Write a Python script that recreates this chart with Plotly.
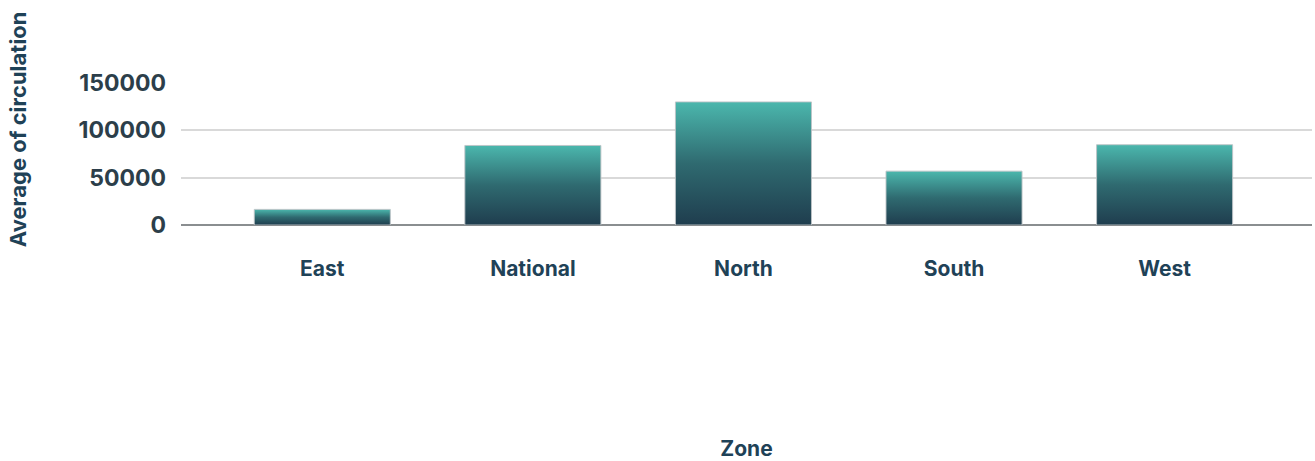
import plotly.graph_objects as go

# Average circulation per zone
zones = ["East", "National", "North", "South", "West"]
avg_circulation = [16500, 84000, 130000, 56900, 84800]
y_tick_values = [0, 50000, 100000, 150000]

BAR_WIDTH = 0.646
TEXT_COLOR = "#1f4257"
TICK_COLOR = "#2c3e4a"
FONT = "Inter"

fig = go.Figure()

# Each bar is a filled polygon so it can carry its own vertical gradient
for i, (zone, value) in enumerate(zip(zones, avg_circulation)):
    left, right = i - BAR_WIDTH / 2, i + BAR_WIDTH / 2
    fig.add_trace(go.Scatter(
        x=[left, left, right, right, left],
        y=[0, value, value, 0, 0],
        mode="lines",
        fill="toself",
        fillgradient=dict(
            type="vertical",
            colorscale=[[0, "#1f3d4e"], [0.5, "#2f6a70"], [1, "#4bb7ad"]],
        ),
        line=dict(color="rgba(190,195,198,0.9)", width=1),
        name=zone,
        hovertemplate=f"{zone}: %{{y}}<extra></extra>",
        showlegend=False,
    ))

fig.update_layout(
    width=1315,
    height=461,
    margin=dict(l=181, r=3, t=83, b=236),
    paper_bgcolor="white",
    plot_bgcolor="white",
    font=dict(family=FONT, color=TEXT_COLOR),
    xaxis=dict(
        range=[-0.671, 4.70],
        tickmode="array",
        tickvals=list(range(len(zones))),
        ticktext=zones,
        showgrid=False,
        zeroline=False,
        showline=False,
        ticks="",
        ticklabelstandoff=29,
        tickfont=dict(family=FONT, size=21, color=TEXT_COLOR, weight=700),
        title=dict(text="Zone", standoff=162,
                   font=dict(family=FONT, size=21, color=TEXT_COLOR, weight=700)),
        automargin=True,
    ),
    yaxis=dict(
        range=[0, 150000],
        tickmode="array",
        tickvals=y_tick_values,
        ticktext=[str(v) for v in y_tick_values],
        showgrid=True,
        gridcolor="#d9d9d9",
        gridwidth=2,
        zeroline=True,
        zerolinecolor="#8a8e90",
        zerolinewidth=2,
        showline=False,
        ticks="",
        ticklabelstandoff=14,
        tickfont=dict(family=FONT, size=23, color=TICK_COLOR, weight=700),
    ),
    annotations=[dict(
        text="Average of circulation",
        xref="paper", yref="paper",
        x=-0.144, y=0.675,
        xanchor="center", yanchor="middle",
        textangle=-90,
        showarrow=False,
        font=dict(family=FONT, size=22, color=TEXT_COLOR, weight=700),
    )],
)

fig.write_html("out.html")
